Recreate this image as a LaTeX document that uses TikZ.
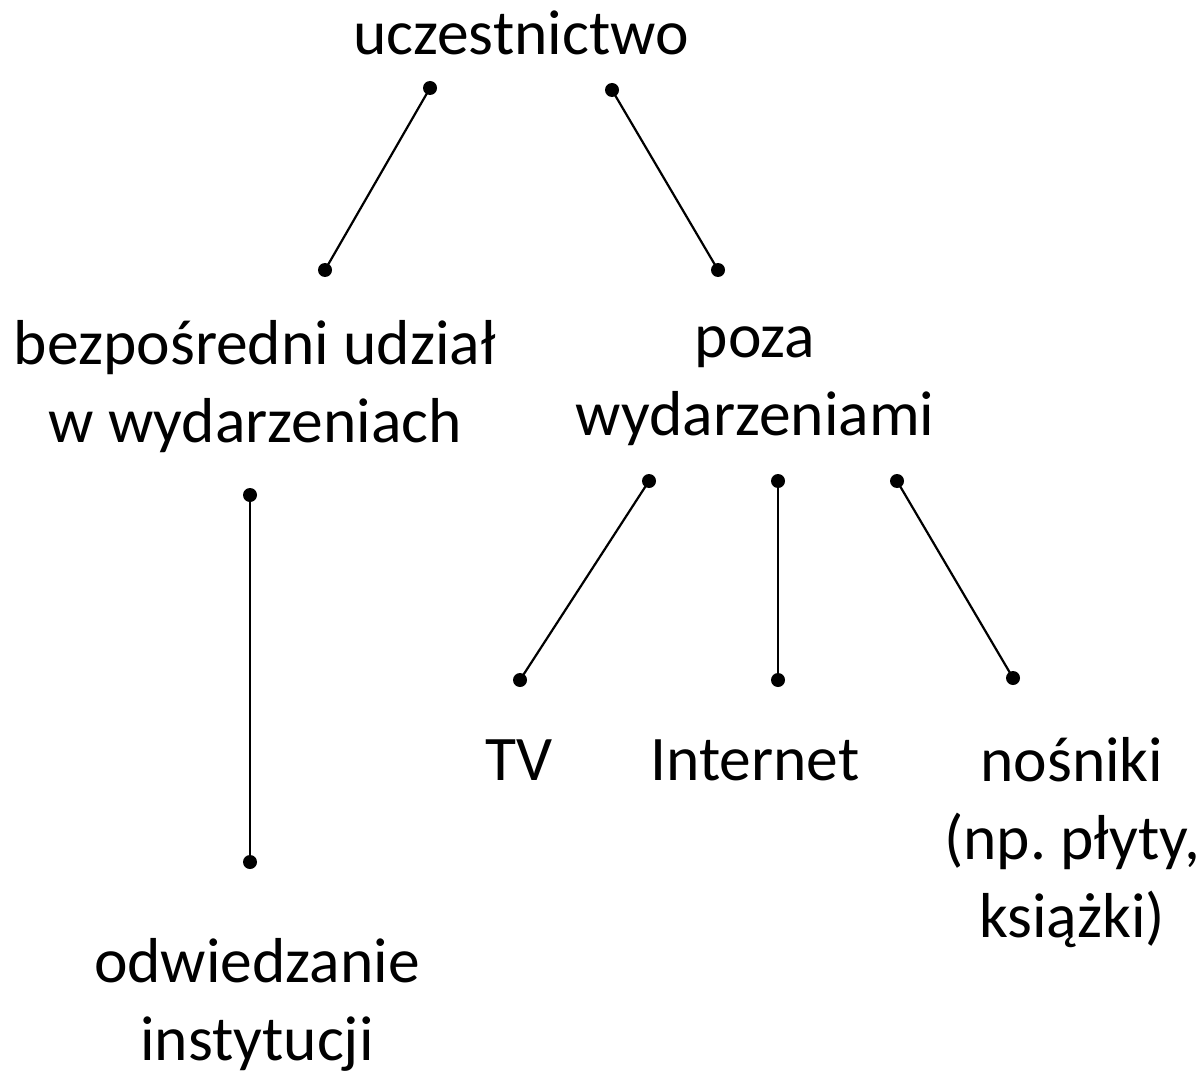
\documentclass[tikz,border=0pt]{standalone}
\usepackage{fontspec}
\setmainfont{Carlito}
\frenchspacing
\begin{document}
\begin{tikzpicture}[x=1pt,y=-1pt,
  lbl/.style={font=\fontsize{63.5}{78}\selectfont, align=center, anchor=base, inner sep=0pt},
  conn/.style={line width=2.2pt},
  dot/.style={fill=black}]
\useasboundingbox (0,0) rectangle (1204,1091);
% labels (anchor = baseline of the last line)
\node[lbl] (u) at (521,55) {uczestnictwo};
\node[lbl] (b) at (255,442) {bezpośredni udział\\w wydarzeniach};
\node[lbl] (p) at (755,435) {poza\\wydarzeniami};
\node[lbl] (tv) at (519,780) {TV};
\node[lbl] (in) at (755,780) {Internet};
\node[lbl] (no) at (1072,937) {nośniki\\(np. płyty,\\książki)};
\node[lbl] (od) at (257,1060) {odwiedzanie\\instytucji};
% connector endpoints
\coordinate (a1) at (430,88);  \coordinate (a2) at (325,270);
\coordinate (b1) at (612,90);  \coordinate (b2) at (718,270);
\coordinate (c1) at (250,495); \coordinate (c2) at (250,862);
\coordinate (d1) at (649,481); \coordinate (d2) at (520,680);
\coordinate (e1) at (778,481); \coordinate (e2) at (778,680);
\coordinate (f1) at (897,481); \coordinate (f2) at (1013,678);
\foreach \s/\t in {a1/a2,b1/b2,c1/c2,d1/d2,e1/e2,f1/f2}{
  \draw[conn] (\s) -- (\t);
  \fill[dot] (\s) circle (7);
  \fill[dot] (\t) circle (7);
}
\end{tikzpicture}
\end{document}
